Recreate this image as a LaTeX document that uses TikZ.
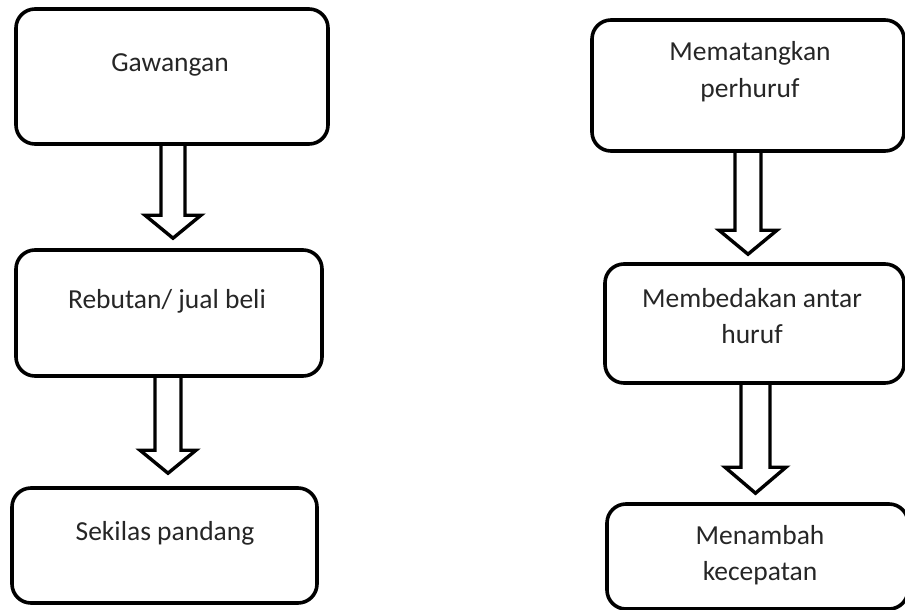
\documentclass[tikz,border=0pt]{standalone}
\usepackage{fontspec}
\setmainfont{Carlito}
\usetikzlibrary{calc}
\definecolor{txt}{HTML}{262626}
\tikzset{
  boxnode/.style={draw=black, line width=3.6pt, rounded corners=19pt, inner sep=0pt, fill=none},
  lbl/.style={text=txt, font=\fontsize{27.5}{36}\selectfont, align=center, inner sep=0pt, anchor=base},
  hollowarrow/.style={draw=black, line width=3.4pt, line join=miter}
}
\newcommand{\blockarr}[7]{%
  \pgfmathsetmacro\bxl{#3-#4}\pgfmathsetmacro\bxr{#3+#4}%
  \coordinate (tip#1) at ($(#2.north -| #3,0)+(0,-#7)$);
  \draw[hollowarrow] (#1.south -| \bxl,0) -- ($(tip#1)+(-#4,-#6)$) -- ($(tip#1)+(-#5,-#6)$) -- (tip#1) -- ($(tip#1)+(#5,-#6)$) -- ($(tip#1)+(#4,-#6)$) -- (#1.south -| \bxr,0);
}
\begin{document}
\begin{tikzpicture}[x=1pt,y=-1pt]
\useasboundingbox (0,0) rectangle (905,610);
\begin{scope}
\clip (0,0) rectangle (905,610);
% boxes
\node[boxnode, minimum width=312pt, minimum height=135pt] (b1) at (172,76.5) {};
\node[boxnode, minimum width=306pt, minimum height=126pt] (b2) at (169,313) {};
\node[boxnode, minimum width=305pt, minimum height=115pt] (b3) at (164.5,545.5) {};
\node[boxnode, minimum width=312pt, minimum height=131pt] (b4) at (748,85.5) {};
\node[boxnode, minimum width=299pt, minimum height=119pt] (b5) at (754.5,323.5) {};
\node[boxnode, minimum width=301pt, minimum height=105pt] (b6) at (757.5,556.5) {};
% labels
\node[lbl] (l1) at (170,72) {Gawangan};
\node[lbl] (l2) at (167,308) {Rebutan/ jual beli};
\node[lbl] (l3) at (165,540) {Sekilas pandang};
\node[lbl] (l4) at (750,97) {Mematangkan\\perhuruf};
\node[lbl] (l5) at (752,343) {Membedakan antar\\huruf};
\node[lbl] (l6) at (760,580) {Menambah\\kecepatan};
% arrows
\blockarr{b1}{b2}{173}{12}{28}{23}{10}
\blockarr{b2}{b3}{168}{13}{28}{23}{13}
\blockarr{b4}{b5}{748}{13}{29}{24}{8}
\blockarr{b5}{b6}{755.5}{14.5}{30.5}{26}{9}
\end{scope}
\end{tikzpicture}
\end{document}
